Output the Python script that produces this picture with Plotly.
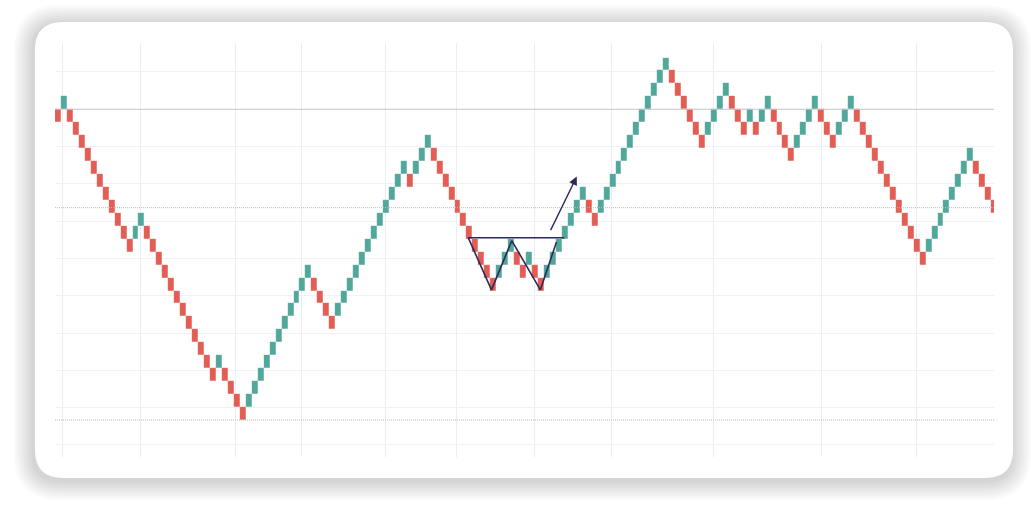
import plotly.graph_objects as go

# renko bricks in brick units (0 = the solid reference level)
brick_open = [
    0, 0, 0, -1, -2, -3, -4, -5, -6, -7, -8, -9, -10, -10, -9, -9, -10, -11, -12, -13,
    -14, -15, -16, -17, -18, -19, -20, -20, -20, -21, -22, -23, -23, -22, -21, -20, -19, -18, -17, -16,
    -15, -14, -13, -13, -14, -15, -16, -16, -15, -14, -13, -12, -11, -10, -9, -8, -7, -6, -5, -5,
    -5, -4, -3, -3, -4, -5, -6, -7, -8, -9, -10, -11, -12, -13, -13, -12, -11, -11, -12, -12,
    -12, -13, -13, -12, -11, -10, -9, -8, -7, -7, -8, -8, -7, -6, -5, -4, -3, -2, -1, 0,
    1, 2, 3, 3, 2, 1, 0, -1, -2, -2, -1, 0, 1, 1, 0, -1, -1, -1, -1, 0,
    0, -1, -2, -3, -3, -2, -1, 0, 0, -1, -2, -2, -1, 0, 0, -1, -2, -3, -4, -5,
    -6, -7, -8, -9, -10, -11, -11, -10, -9, -8, -7, -6, -5, -4, -4, -5, -6, -7,
]
brick_close = [
    -1, 1, -1, -2, -3, -4, -5, -6, -7, -8, -9, -10, -11, -9, -8, -10, -11, -12, -13, -14,
    -15, -16, -17, -18, -19, -20, -21, -19, -21, -22, -23, -24, -22, -21, -20, -19, -18, -17, -16, -15,
    -14, -13, -12, -14, -15, -16, -17, -15, -14, -13, -12, -11, -10, -9, -8, -7, -6, -5, -4, -6,
    -4, -3, -2, -4, -5, -6, -7, -8, -9, -10, -11, -12, -13, -14, -12, -11, -10, -12, -13, -11,
    -13, -14, -12, -11, -10, -9, -8, -7, -6, -8, -9, -7, -6, -5, -4, -3, -2, -1, 0, 1,
    2, 3, 4, 2, 1, 0, -1, -2, -3, -1, 0, 1, 2, 0, -1, -2, 0, -2, 0, 1,
    -1, -2, -3, -4, -2, -1, 0, 1, -1, -2, -3, -1, 0, 1, -1, -2, -3, -4, -5, -6,
    -7, -8, -9, -10, -11, -12, -10, -9, -8, -7, -6, -5, -4, -3, -5, -6, -7, -8,
]

# time gridlines (brick index positions)
time_grid = [1.3, 14.4, 30.3, 41.4, 55.4, 67.3, 80.4, 93.4, 110.4, 128.5, 144.4]

# support / resistance levels
ref_level = 0
dotted_levels = [-7.6, -24]

# double bottom (W) drawing
neck_x = [69.3, 85.4]
neck_y = [-9.92, -9.92]
w_x = [69.3, 73.2, 76.6, 81.4, 84.1]
w_y = [-9.92, -13.95, -10.15, -13.95, -10.25]
arrow_from = (83.0, -9.45)
arrow_to = (87.5, -5.2)

GREEN = '#52a79b'
RED = '#e35d54'
W, H = 1031, 508
L, R, T, B = 55, 37, 43, 51


def px(x):
    return (x - L) / (W - L - R)


def py(y):
    return (H - B - y) / (H - T - B)


def rounded_rect(x0, y0, x1, y1, r):
    pts = [
        ('M', [(x0 + r, y0)]), ('L', [(x1 - r, y0)]), ('Q', [(x1, y0), (x1, y0 + r)]),
        ('L', [(x1, y1 - r)]), ('Q', [(x1, y1), (x1 - r, y1)]), ('L', [(x0 + r, y1)]),
        ('Q', [(x0, y1), (x0, y1 - r)]), ('L', [(x0, y0 + r)]), ('Q', [(x0, y0), (x0 + r, y0)]),
    ]
    path = ''
    for cmd, coords in pts:
        path += cmd + ' ' + ' '.join('%.5f,%.5f' % (px(a), py(b)) for a, b in coords) + ' '
    return path + 'Z'


shapes = []
# card shadow
for k in range(14, 0, -1):
    e = k * 1.4
    shapes.append(dict(type='path', xref='paper', yref='paper', layer='below',
                       path=rounded_rect(35 - e - 2, 22 - e + 2, 1013 + e - 1, 478 + e + 3, 28 + e),
                       fillcolor='rgba(0,0,0,0.010)', line=dict(width=0)))
# card
shapes.append(dict(type='path', xref='paper', yref='paper', layer='below',
                   path=rounded_rect(35, 22, 1013, 478, 28),
                   fillcolor='white', line=dict(width=0)))
# reference + dotted levels
shapes.append(dict(type='line', xref='paper', yref='y', x0=0, x1=1, y0=ref_level, y1=ref_level,
                   line=dict(color='#c6c7d0', width=1)))
for lv in dotted_levels:
    shapes.append(dict(type='line', xref='paper', yref='y', x0=0, x1=1, y0=lv, y1=lv,
                       line=dict(color='#b8b8bc', width=1, dash='1px,1px')))

idx = [i + 0.5 for i in range(len(brick_close))]
colors = [GREEN if c > o else RED for o, c in zip(brick_open, brick_close)]

fig = go.Figure()
fig.add_trace(go.Bar(
    x=idx,
    y=[c - o for o, c in zip(brick_open, brick_close)],
    base=brick_open,
    width=1,
    marker=dict(color=colors, line=dict(color='rgba(255,255,255,0.25)', width=0.4)),
    hoverinfo='skip',
))
fig.add_trace(go.Scatter(x=neck_x, y=neck_y, mode='lines',
                         line=dict(color='#2c2a5c', width=1.6), hoverinfo='skip'))
fig.add_trace(go.Scatter(x=w_x, y=w_y, mode='lines',
                         line=dict(color='#2c2a5c', width=1.6), hoverinfo='skip'))

fig.add_annotation(
    x=arrow_to[0], y=arrow_to[1], ax=arrow_from[0], ay=arrow_from[1],
    xref='x', yref='y', axref='x', ayref='y',
    showarrow=True, arrowhead=2, arrowsize=1.2, arrowwidth=1.4, arrowcolor='#2c2a5c', text='',
)

fig.update_layout(
    width=W, height=H,
    margin=dict(l=L, r=R, t=T, b=B, pad=0),
    paper_bgcolor='white',
    plot_bgcolor='rgba(0,0,0,0)',
    showlegend=False,
    bargap=0,
    shapes=shapes,
    xaxis=dict(range=[0, 157.47], tickvals=time_grid, showticklabels=False, ticks='',
               showgrid=True, gridcolor='#e9eef4', gridwidth=1, zeroline=False, showline=False),
    yaxis=dict(range=[-26.86, 5.12], tick0=0, dtick=2.881, showticklabels=False, ticks='',
               showgrid=True, gridcolor='#eef1f5', gridwidth=1, zeroline=False, showline=False),
)

fig.write_html("out.html", config={'displayModeBar': False},
               post_script="document.body.style.margin='0';")
